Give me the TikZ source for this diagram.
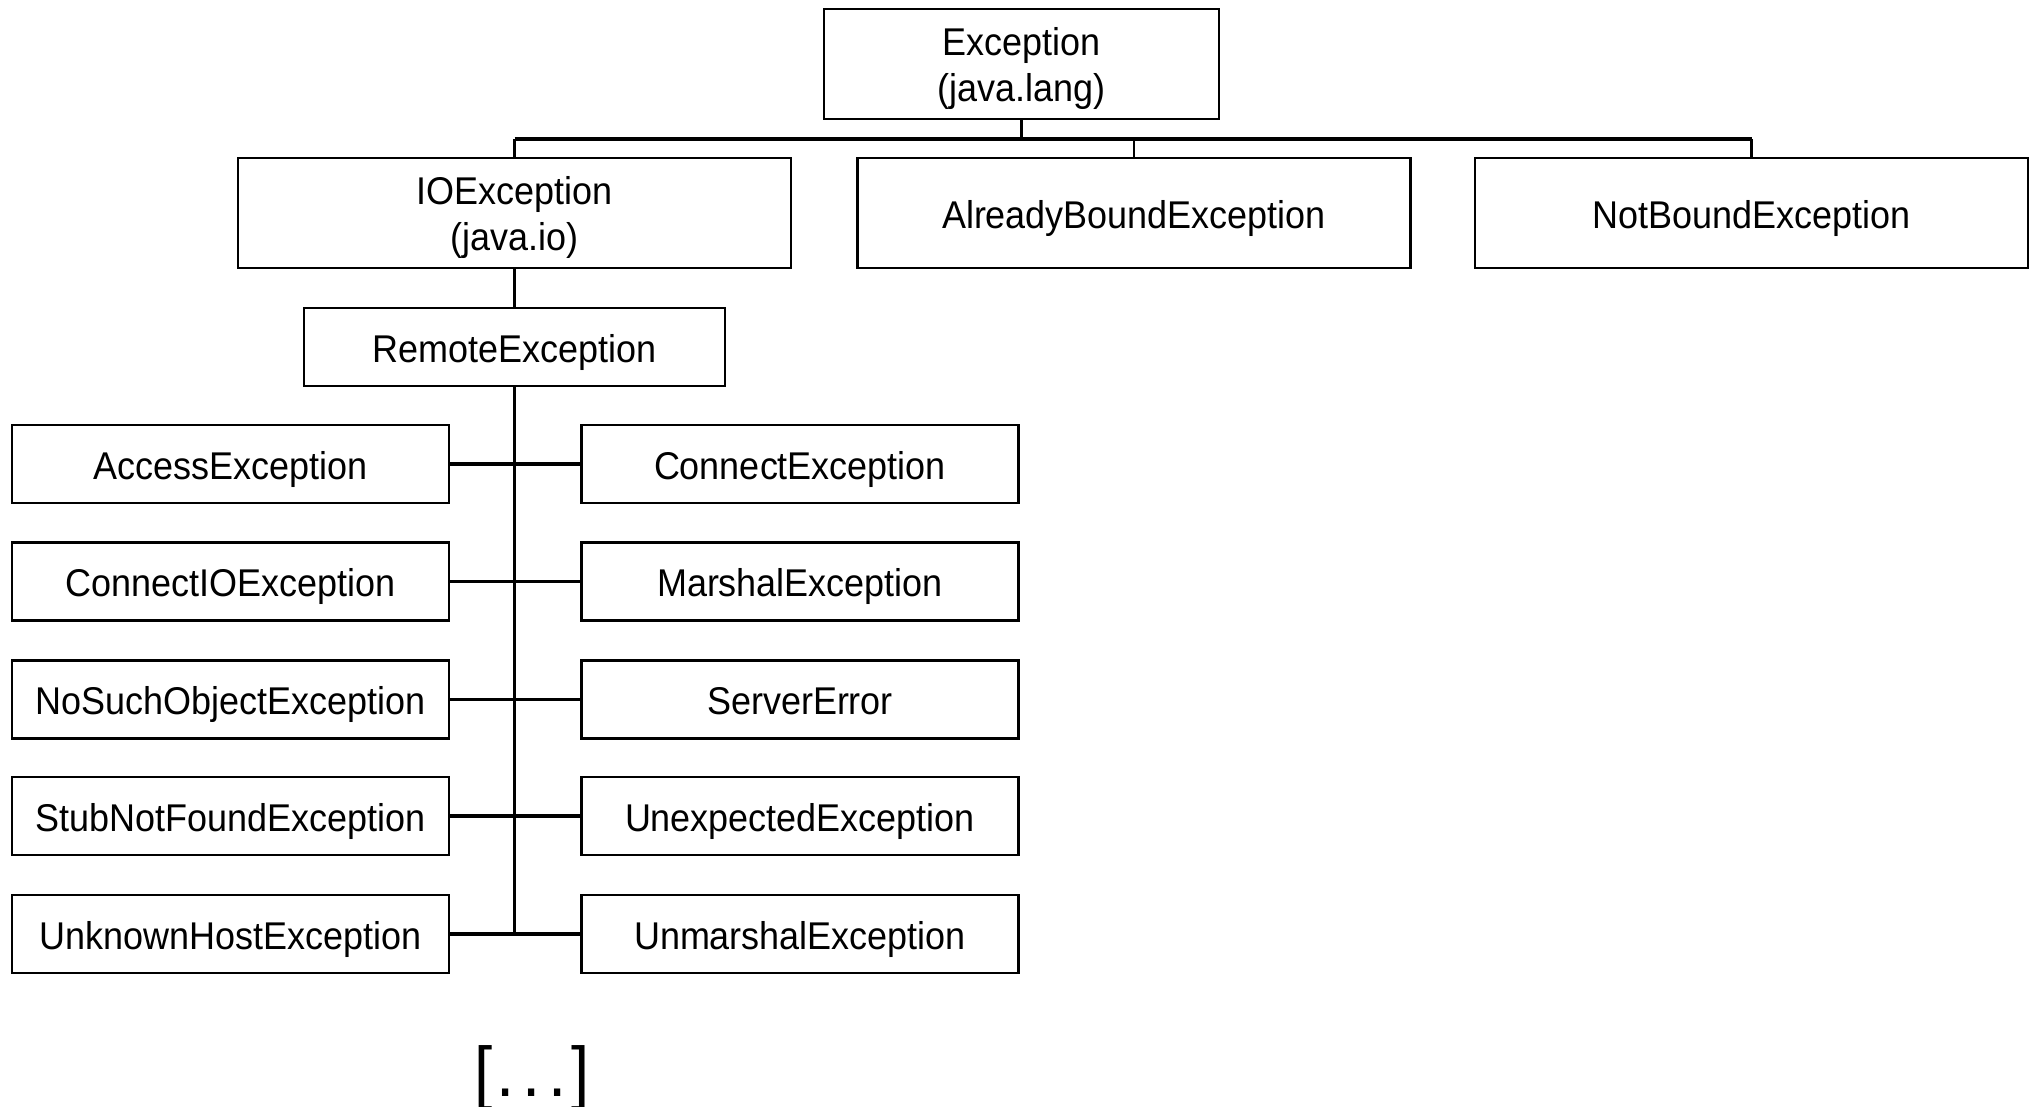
\documentclass[tikz,border=0pt]{standalone}
\usepackage{fontspec}
\setmainfont{Liberation Sans}[FakeStretch=0.93]
\usetikzlibrary{positioning}

\newcommand{\lowtxt}{\rule{0pt}{10.5pt}}

\begin{document}
\begin{tikzpicture}[x=0.01cm, y=-0.01cm, font=\fontsize{11}{13.2}\selectfont,
  cls/.style={draw, line width=0.7pt, inner sep=0pt, align=center},
  rootbox/.style={cls, minimum width=3.95cm, minimum height=1.10cm},
  wide/.style={cls, minimum width=5.53cm, minimum height=1.10cm},
  leaf/.style={cls, minimum width=4.37cm, minimum height=0.78cm, text height=0.86em, text depth=0pt},
  link/.style={line width=0.7pt},
  trunk/.style={line width=1.1pt}]
\useasboundingbox (0,0) rectangle (2031,1106);
% ================= java.lang / java.io / java.rmi top level =================
\node[rootbox] (exc) at (1021.5,64) {\lowtxt Exception\\(java.lang)};
\node[wide] (ioe) at (514.5,213) {\lowtxt IOException\\(java.io)};
\node[wide, text height=0.86em, text depth=0pt] (abe) at (1134,213) {AlreadyBoundException};
\node[wide, text height=0.86em, text depth=0pt] (nbe) at (1751.5,213) {NotBoundException};
\coordinate (bus) at (1021.5,139);
\draw[trunk] (exc.south) -- (bus);
\draw[trunk] (ioe.north |- bus) -- (nbe.north |- bus);
\foreach \n in {ioe,abe,nbe}{\draw[link] (\n.north) -- (\n.north |- bus);}
% ================= RemoteException and its subclasses =================
\node[leaf, minimum width=4.21cm] (rem) at (514.5,347) {RemoteException};
\draw[link] (ioe) -- (rem);
\foreach \i/\y/\l/\r in {1/464/AccessException/ConnectException,
                        2/581.5/ConnectIOException/MarshalException,
                        3/699.5/NoSuchObjectException/ServerError,
                        4/816/StubNotFoundException/UnexpectedException,
                        5/934/UnknownHostException/UnmarshalException}{
  \node[leaf] (l\i) at (230.5,\y) {\l};
  \node[leaf] (r\i) at (800,\y) {\r};
  \draw[trunk] (l\i) -- (r\i);
}
\draw[trunk] (rem.south) -- (rem.south |- l5);
\node[font=\fontsize{20}{22}\selectfont, anchor=base] (more) at (532,1096) {[\kern1.2pt.\kern2.2pt.\kern2.2pt.\kern1.2pt]};
\end{tikzpicture}
\end{document}
